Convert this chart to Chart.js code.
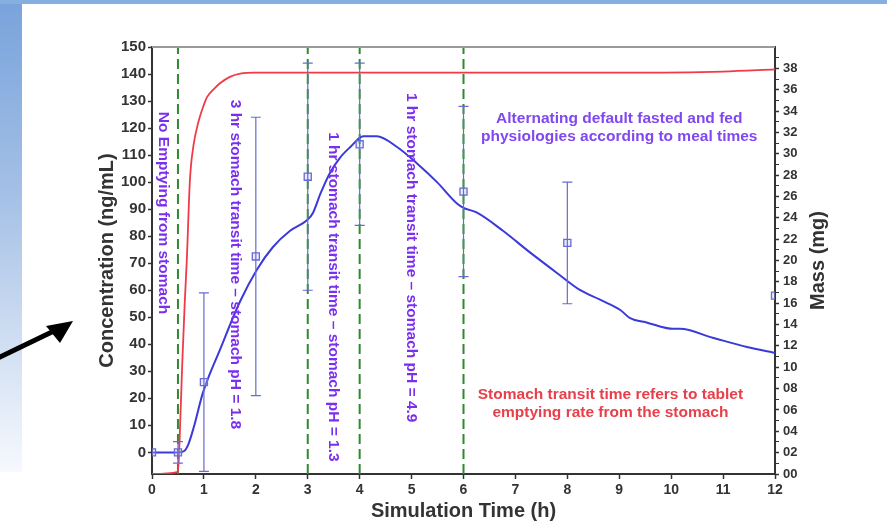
<!DOCTYPE html>
<html>
<head>
<meta charset="utf-8">
<title>Simulated plasma concentration and tablet mass</title>
<script src="https://cdn.jsdelivr.net/npm/chart.js@4.4.1/dist/chart.umd.min.js"></script>
<style>
  html, body { margin: 0; padding: 0; background: #fff; }
  #slide { position: relative; width: 887px; height: 525px; overflow: hidden; background: #fff; }
  #strip { position: absolute; left: 0; top: 0; width: 22px; height: 472px;
           background: linear-gradient(to bottom, #78a3db 0%, #a3bfe6 40%, #cfdef2 72%, #f6f9fd 100%); }
  #topbar { position: absolute; left: 0; top: 0; width: 887px; height: 4px; background: #86aee0; }
  canvas, svg { position: absolute; left: 0; top: 0; }
</style>
</head>
<body>
<div id="slide">
  <div id="strip"></div>
  <div id="topbar"></div>
  <canvas id="chart" width="887" height="525"></canvas>
  <svg width="887" height="525">
    <line x1="-2" y1="358" x2="56" y2="330" stroke="#000" stroke-width="5"/>
    <polygon points="73,321 46,326 60,343" fill="#000"/>
  </svg>
</div>
<script>
// simulated tablet mass remaining to be emptied (mg), right axis
const massTime = [0, 0.5, 0.53, 0.58, 0.63, 0.67, 0.73, 0.8, 0.89, 1.0, 1.06, 1.2, 1.31, 1.5, 1.7, 2.0, 3, 6, 9, 11, 12]
const massMg   = [0, 0.2, 3, 10, 16, 20, 27.5, 30.8, 32.9, 34.6, 35.3, 36.1, 36.6, 37.2, 37.5, 37.6, 37.6, 37.6, 37.6, 37.7, 37.9]

// simulated plasma concentration (ng/mL), left axis
const concTime = [0, 0.5, 0.62, 0.7, 0.8, 0.98, 1.31, 1.7, 2.02, 2.33, 2.66, 2.99, 3.1, 3.25, 3.43, 3.62, 3.82,
                  4.07, 4.33, 4.72, 5.1, 5.49, 5.88, 6.0, 6.26, 6.76, 7.28, 7.8, 8.25, 8.63, 9.02, 9.2, 9.54,
                  10.04, 10.17, 10.8, 11.46, 12]
const concNgMl = [0, 0, 0.5, 3, 9, 22, 38, 56, 67.6, 76, 82, 86, 88.6, 96, 103.5, 109, 113,
                  117, 117, 113, 107, 100, 92, 90.5, 88.7, 82, 74, 66.4, 60, 56.5, 52.7, 49.8, 48,
                  45.7, 45.7, 42.4, 39, 36.8]

// observed concentrations, mean and SD
const obsTime = [0, 0.5, 1, 2, 3, 4, 6, 8, 12]
const obsMean = [0, 0, 26, 72.5, 102, 114, 96.5, 77.5, 58]
const obsSd   = [0, 4, 33, 51.5, 42, 30, 31.5, 22.5, 0]

// stomach transit boundaries (h)
const transitTimes = [0.5, 3, 4, 6]

// axis ticks
const hourTicks = [0, 1, 2, 3, 4, 5, 6, 7, 8, 9, 10, 11, 12]
const concTicks = [0, 10, 20, 30, 40, 50, 60, 70, 80, 90, 100, 110, 120, 130, 140, 150]
const massTicks = [0, 1, 2, 3, 4, 5, 6, 7, 8, 9, 10, 11, 12, 13, 14, 15, 16, 17, 18, 19,
                   20, 21, 22, 23, 24, 25, 26, 27, 28, 29, 30, 31, 32, 33, 34, 35, 36, 37, 38, 39]

const FONT = '"Liberation Sans", Arial, sans-serif'
const AXIS = '#333333'
const VIOLET = '#7a2ef0'

// free text placed in data units (hours, ng/mL)
const notes = [
  { lines: ['No Emptying from stomach'], x: 0.21, y: 126, vertical: true, color: VIOLET },
  { lines: ['3 hr stomach transit time \u2013 stomach pH = 1.8'], x: 1.6, y: 130.5, vertical: true, color: VIOLET },
  { lines: ['1 hr stomach transit time \u2013 stomach pH = 1.3'], x: 3.49, y: 118.5, vertical: true, color: VIOLET },
  { lines: ['1 hr stomach transit time \u2013 stomach pH = 4.9'], x: 4.99, y: 133, vertical: true, color: VIOLET },
  { lines: ['Alternating default fasted and fed', 'physiologies according to meal times'],
    x: 9.0, y: 123.5, vertical: false, color: '#8048f0' },
  { lines: ['Stomach transit time refers to tablet', 'emptying rate from the stomach'],
    x: 8.83, y: 21.3, vertical: false, color: '#e8404a' }
]

const toPoints = (xs, ys) => xs.map((x, i) => ({ x, y: ys[i] }))

const errorBars = {
  id: 'errorBars',
  afterDatasetsDraw(chart) {
    const { ctx, scales: { x, y } } = chart
    ctx.save()
    ctx.strokeStyle = '#6a6ad4'
    ctx.lineWidth = 1.2
    obsTime.forEach((t, i) => {
      if (!obsSd[i]) return
      const px = x.getPixelForValue(t)
      const top = y.getPixelForValue(obsMean[i] + obsSd[i])
      const bot = y.getPixelForValue(obsMean[i] - obsSd[i])
      ctx.beginPath()
      ctx.moveTo(px, top); ctx.lineTo(px, bot)
      ctx.moveTo(px - 5, top); ctx.lineTo(px + 5, top)
      ctx.moveTo(px - 5, bot); ctx.lineTo(px + 5, bot)
      ctx.stroke()
    })
    ctx.restore()
  }
}

const decorations = {
  id: 'decorations',
  afterDraw(chart) {
    const { ctx, chartArea: area, scales: { x, y, y2 } } = chart
    ctx.save()
    // frame top edge
    ctx.strokeStyle = '#9a9a9a'
    ctx.lineWidth = 2
    ctx.beginPath()
    ctx.moveTo(area.left, area.top)
    ctx.lineTo(area.right, area.top)
    ctx.stroke()

    // right axis title, reading upwards
    ctx.fillStyle = AXIS
    ctx.font = 'bold 20px ' + FONT
    ctx.textAlign = 'center'
    ctx.textBaseline = 'middle'
    ctx.translate(y2.left + 43, (area.top + area.bottom) / 2)
    ctx.rotate(-Math.PI / 2)
    ctx.fillText('Mass (mg)', 0, 0)
    ctx.restore()

    // annotations
    notes.forEach(n => {
      const px = x.getPixelForValue(n.x)
      const py = y.getPixelForValue(n.y)
      ctx.save()
      ctx.fillStyle = n.color
      ctx.font = 'bold 15.5px ' + FONT
      ctx.textBaseline = 'middle'
      ctx.translate(px, py)
      if (n.vertical) {
        ctx.rotate(Math.PI / 2)
        ctx.textAlign = 'left'
      } else {
        ctx.textAlign = 'center'
      }
      n.lines.forEach((line, i) => ctx.fillText(line, 0, i * 18))
      ctx.restore()
    })
  }
}

Chart.defaults.font.family = FONT
Chart.defaults.color = AXIS

const transitSets = transitTimes.map(t => ({
  data: [{ x: t, y: -8 }, { x: t, y: 150 }],
  yAxisID: 'y',
  borderColor: '#2f8a2f',
  borderWidth: 2,
  borderDash: [10, 5],
  pointRadius: 0
}))

new Chart(document.getElementById('chart'), {
  type: 'line',
  data: {
    datasets: [
      {
        label: 'Observed',
        data: toPoints(obsTime, obsMean),
        yAxisID: 'y',
        showLine: false,
        pointStyle: 'rect',
        pointRadius: 5,
        borderWidth: 1.3,
        borderColor: '#6a6ad4',
        backgroundColor: 'rgba(190,200,250,0.35)'
      },
      {
        label: 'Concentration',
        data: toPoints(concTime, concNgMl),
        yAxisID: 'y',
        borderColor: '#3a3ada',
        borderWidth: 2,
        pointRadius: 0,
        cubicInterpolationMode: 'monotone'
      },
      {
        label: 'Mass',
        data: toPoints(massTime, massMg),
        yAxisID: 'y2',
        borderColor: '#f03a48',
        borderWidth: 1.8,
        pointRadius: 0,
        cubicInterpolationMode: 'monotone'
      },
      ...transitSets
    ]
  },
  options: {
    responsive: false,
    animation: false,
    events: [],
    layout: { padding: { left: 91, right: 0, top: 47, bottom: 0 } },
    plugins: { legend: { display: false }, tooltip: { enabled: false } },
    scales: {
      x: {
        type: 'linear',
        min: 0,
        max: 12,
        afterBuildTicks: s => { s.ticks = hourTicks.map(v => ({ value: v })) },
        afterFit: s => { s.height = 51 },
        ticks: { autoSkip: false, maxRotation: 0, padding: 3, font: { size: 14, weight: 'bold' }, color: AXIS },
        grid: { drawOnChartArea: false, tickLength: 5, tickWidth: 1.5, tickColor: AXIS },
        border: { color: AXIS, width: 2 },
        title: { display: true, text: 'Simulation Time (h)', color: AXIS,
                 font: { size: 20, weight: 'bold' }, padding: { top: 4, bottom: 2 } }
      },
      y: {
        position: 'left',
        min: -8,
        max: 150,
        afterBuildTicks: s => { s.ticks = concTicks.map(v => ({ value: v })) },
        afterFit: s => { s.width = 61 },
        ticks: { autoSkip: false, padding: 2, font: { size: 15, weight: 'bold' }, color: AXIS },
        grid: { drawOnChartArea: false, tickLength: 4, tickWidth: 1.5, tickColor: AXIS },
        border: { color: AXIS, width: 2 },
        title: { display: true, text: 'Concentration (ng/mL)', color: AXIS,
                 font: { size: 20, weight: 'bold' } }
      },
      y2: {
        position: 'right',
        min: 0,
        max: 40,
        afterBuildTicks: s => { s.ticks = massTicks.map(v => ({ value: v })) },
        afterFit: s => { s.width = 112 },
        ticks: {
          autoSkip: false,
          padding: 4,
          font: { size: 13, weight: 'bold' },
          color: AXIS,
          callback: v => (v % 2 === 0 ? String(v).padStart(2, '0') : '')
        },
        grid: {
          drawOnChartArea: false,
          tickLength: 4,
          tickColor: AXIS,
          tickWidth: c => (c.tick && c.tick.value % 2 === 0 ? 1.5 : 1)
        },
        border: { color: AXIS, width: 2 }
      }
    }
  },
  plugins: [errorBars, decorations]
})
</script>
</body>
</html>
